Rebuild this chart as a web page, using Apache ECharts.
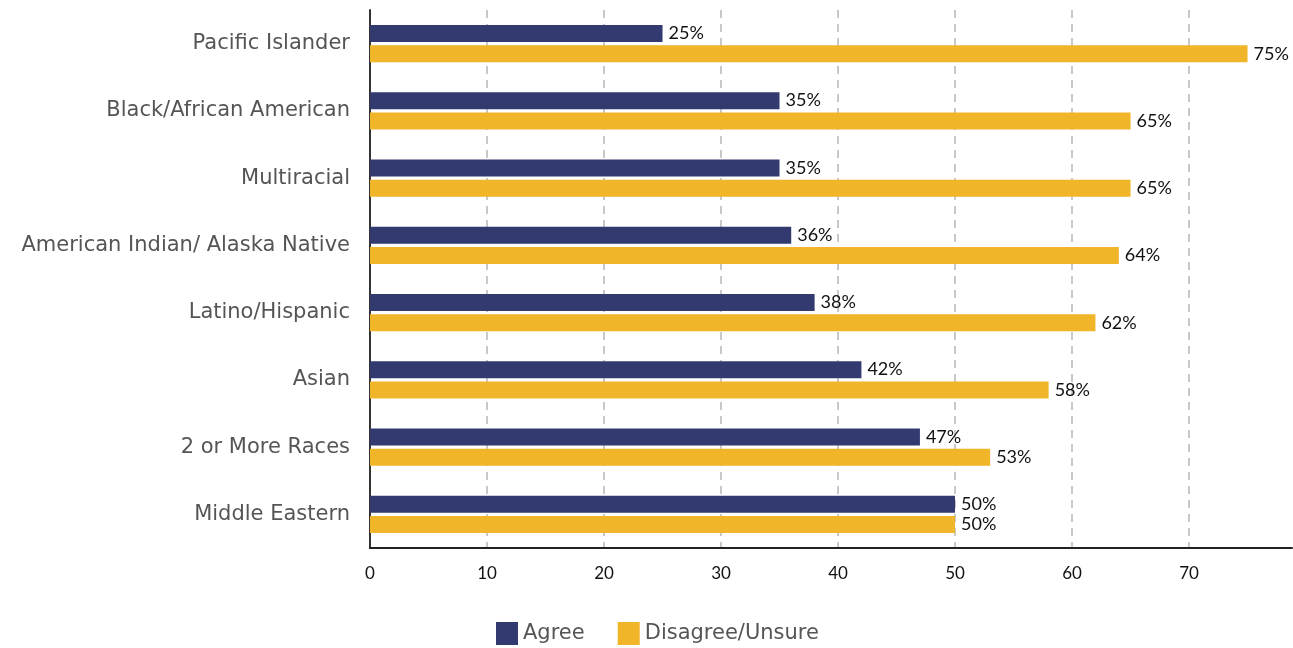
<!DOCTYPE html>
<html>
<head>
<meta charset="utf-8">
<script src="https://cdn.jsdelivr.net/npm/echarts@6/dist/echarts.min.js"></script>
<style>
  html, body { margin: 0; padding: 0; background: #fff; }
  #chart { width: 1293px; height: 648px; }
</style>
</head>
<body>
<div id="chart"></div>
<script>
// Groups, listed top to bottom
const categories = [
  'Pacific Islander',
  'Black/African American',
  'Multiracial',
  'American Indian/ Alaska Native',
  'Latino/Hispanic',
  'Asian',
  '2 or More Races',
  'Middle Eastern'
];
const agree = [25, 35, 35, 36, 38, 42, 47, 50];
const disagree = [75, 65, 65, 64, 62, 58, 53, 50];
const seriesNames = ['Agree', 'Disagree/Unsure'];

const labelFont = 'Lato, "Liberation Sans", sans-serif';
const textFont = '"DejaVu Sans", "Open Sans", sans-serif';

const valueLabel = {
  show: true,
  position: 'right',
  distance: 6,
  color: '#111',
  fontFamily: labelFont,
  fontSize: 18,
  formatter: p => p.value + '%'
};

const chart = echarts.init(document.getElementById('chart'), null, { renderer: 'canvas' });
chart.setOption({
  animation: false,
  grid: { left: 370, right: 1, top: 10, bottom: 100, containLabel: false },
  legend: {
    bottom: 3,
    left: 496,
    padding: 0,
    itemWidth: 22,
    itemHeight: 23,
    itemGap: 33,
    icon: 'rect',
    textStyle: { fontFamily: textFont, fontSize: 21, color: '#555' },
    data: seriesNames
  },
  xAxis: {
    type: 'value',
    min: 0,
    max: 78.8,
    interval: 10,
    axisLine: { show: true, lineStyle: { color: '#222', width: 2 } },
    axisTick: { show: false },
    axisLabel: {
      color: '#111',
      fontFamily: labelFont,
      fontSize: 17,
      margin: 17,
      showMaxLabel: false
    },
    splitLine: {
      show: true,
      showMinLine: false,
      showMaxLine: false,
      lineStyle: { color: '#c8c8c8', width: 2, type: [8, 6] }
    }
  },
  yAxis: {
    type: 'category',
    inverse: true,
    data: categories,
    axisLine: { show: true, lineStyle: { color: '#333', width: 2 } },
    axisTick: { show: false },
    axisLabel: {
      color: '#555',
      fontFamily: textFont,
      fontSize: 21,
      margin: 20
    }
  },
  series: [
    {
      name: seriesNames[0],
      type: 'bar',
      data: agree,
      barWidth: 17,
      barGap: '20%',
      itemStyle: { color: '#323a70' },
      label: valueLabel
    },
    {
      name: seriesNames[1],
      type: 'bar',
      data: disagree,
      barWidth: 17,
      barGap: '20%',
      itemStyle: { color: '#f0b529' },
      label: valueLabel
    }
  ]
});
</script>
</body>
</html>
